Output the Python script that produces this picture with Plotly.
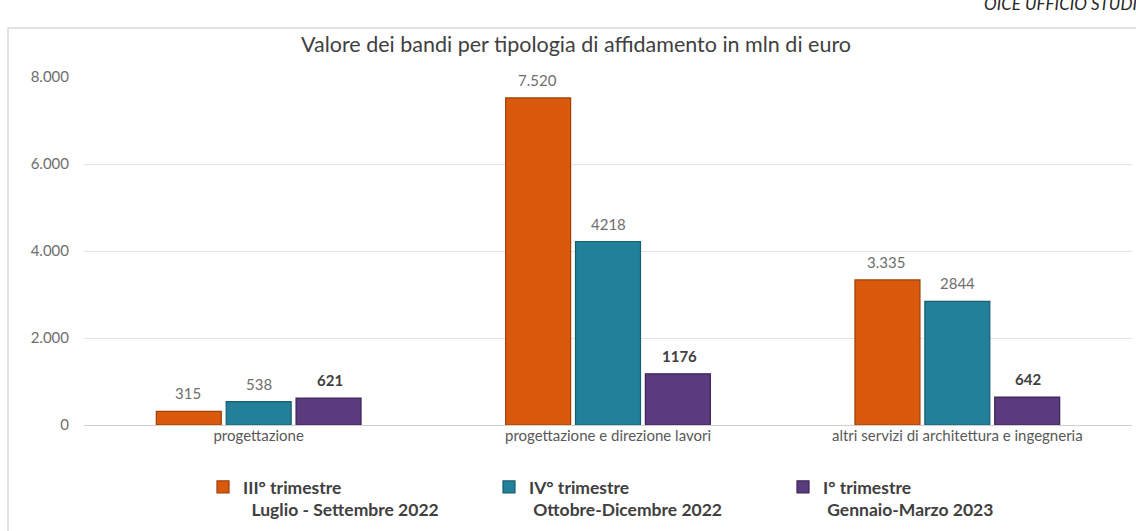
import plotly.graph_objects as go

categories = ["progettazione", "progettazione e direzione lavori", "altri servizi di architettura e ingegneria"]
series_names = [
    "III° trimestre<br>\u00a0\u00a0Luglio - Settembre 2022",
    "IV° trimestre<br>\u00a0Ottobre-Dicembre 2022",
    "I° trimestre<br>\u00a0Gennaio-Marzo 2023",
]
q3_2022 = [315, 7520, 3335]
q4_2022 = [538, 4218, 2844]
q1_2023 = [621, 1176, 642]
y_ticks = [0, 2000, 4000, 6000, 8000]

colors = ["#D95A0C", "#22809A", "#5A3B7E"]
outlines = ["#9E3F08", "#165E70", "#3B2558"]
label_colors = ["#6E6E6E", "#6E6E6E", "#404040"]
legend_ids = ["legend", "legend2", "legend3"]

FONT = "Lato, 'Open Sans', sans-serif"


def fmt_label(series_idx, v):
    if series_idx == 0:
        return f"{v:,.0f}".replace(",", ".")
    if series_idx == 1:
        return f"{v:.0f}"
    return f"<b>{v:.0f}</b>"


fig = go.Figure()
for i, vals in enumerate([q3_2022, q4_2022, q1_2023]):
    fig.add_trace(go.Bar(
        x=categories, y=vals, name=series_names[i],
        marker=dict(color=colors[i], line=dict(color=outlines[i], width=1.2)),
        showlegend=True,
        legend=legend_ids[i],
        hoverinfo="x+y",
    ))
    # value labels anchored on each bar top through the data scale
    for j, v in enumerate(vals):
        fig.add_annotation(
            x=categories[j], y=v, xref="x", yref="y",
            text=fmt_label(i, v),
            showarrow=False, yanchor="middle", yshift=18, xshift=(i - 1) * 71,
            font=dict(family=FONT, size=15, color=label_colors[i]),
        )

L, R, T, B = 84, 4, 77, 106
W, H = 1136, 531
pw = W - L - R
ph = H - T - B


def px(x):
    return (x - L) / pw


def py(y):
    return (H - B - y) / ph


legend_common = dict(
    orientation="v", valign="top", yanchor="top", xanchor="left",
    bgcolor="rgba(0,0,0,0)",
    font=dict(family=FONT, size=17.5, color="#404040", weight="bold"),
    itemwidth=30, tracegroupgap=0,
)

fig.add_annotation(
    text="<i>OICE UFFICIO STUDI</i>", xref="paper", yref="paper",
    x=px(982), y=py(4), xanchor="left", yanchor="middle", showarrow=False,
    font=dict(family=FONT, size=17, color="#262626"),
)

fig.update_layout(
    width=W, height=H,
    margin=dict(l=L, r=R, t=T, b=B, autoexpand=False),
    paper_bgcolor="white", plot_bgcolor="white",
    separators=",.",
    showlegend=True,
    barmode="group", bargap=0.40, bargroupgap=0.07,
    title=dict(
        text="Valore dei bandi per tipologia di affidamento in mln di euro",
        x=576 / W, xanchor="center", y=1 - 44 / H, yanchor="middle",
        font=dict(family=FONT, size=21.5, color="#404040"),
    ),
    xaxis=dict(
        tickfont=dict(family=FONT, size=15, color="#595959"),
        showline=False, ticks="", showgrid=False,
    ),
    yaxis=dict(
        range=[0, 8000], tickvals=y_ticks, tickformat=",.0f",
        tickfont=dict(family=FONT, size=15, color="#6E6E6E"),
        gridcolor="#E3E3E3", gridwidth=1, zeroline=True,
        zerolinecolor="#D0D0D0", zerolinewidth=1, ticks="", ticklabelstandoff=14,
    ),
    legend=dict(x=px(203), y=py(469), **legend_common),
    legend2=dict(x=px(489), y=py(469), **legend_common),
    legend3=dict(x=px(783), y=py(469), **legend_common),
    shapes=[dict(
        type="rect", xref="paper", yref="paper",
        x0=px(8), x1=px(1145), y0=py(540), y1=py(28),
        line=dict(color="#D9D9D9", width=1.5), fillcolor="rgba(0,0,0,0)", layer="below",
    )],
)

fig.write_html(
    "out.html",
    config={"displayModeBar": False},
    post_script="document.body.style.margin='0';document.body.style.overflow='hidden';",
)
